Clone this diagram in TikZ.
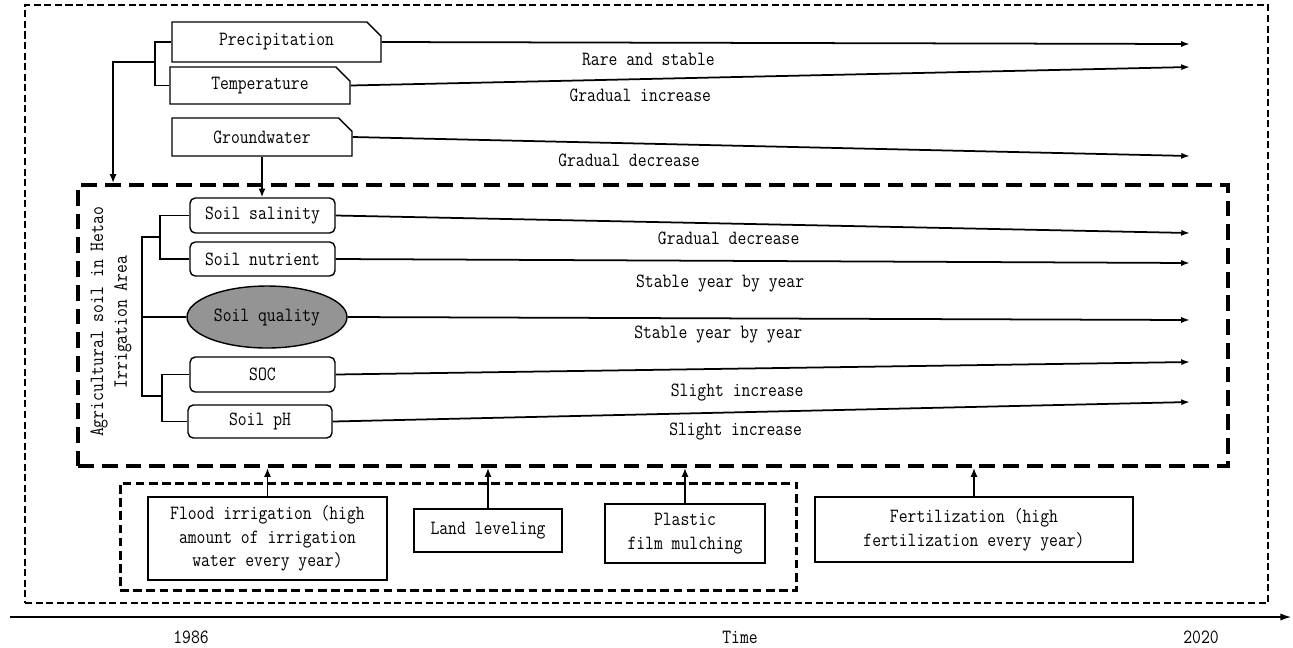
\documentclass[tikz,border=0pt]{standalone}
\usepackage{fontspec}
\setmainfont{Latin Modern Mono}[FakeStretch=0.85]
\usetikzlibrary{arrows.meta,positioning,shapes.misc,shapes.geometric}

\begin{document}
\begin{tikzpicture}[x=0.02cm, y=-0.02cm, font=\fontsize{11.5}{13.5}\selectfont,
  line width=0.8pt,
  factor/.style={draw, chamfered rectangle, chamfered rectangle corners=north east,
     chamfered rectangle sep=4pt, inner sep=0pt, minimum height=0.76cm},
  prop/.style={draw, rounded corners=3pt, inner sep=0pt, minimum width=2.9cm, minimum height=0.7cm},
  core/.style={draw, ellipse, fill=black!42, inner sep=0pt, minimum width=3.2cm, minimum height=1.24cm},
  practice/.style={draw, align=center, inner sep=0pt},
  flow/.style={-{Latex[length=5pt,width=4pt]}, line width=0.9pt},
  trend/.style={-{Latex[length=5pt,width=3.5pt]}, line width=1pt},
  trendlabel/.style={inner sep=0pt}]
  \useasboundingbox (0,0) rectangle (1293,647);

  % frames
  \node[draw, dash pattern=on 4pt off 2pt, minimum width=24.86cm, minimum height=11.96cm, inner sep=0pt] (frame) at (646.5,304) {};
  \node[draw, line width=2.3pt, dash pattern=on 9pt off 4.5pt, minimum width=23cm, minimum height=5.62cm, inner sep=0pt] (area) at (653,325.5) {};
  \node[draw, line width=1.7pt, dash pattern=on 5pt off 2.5pt, minimum width=13.54cm, minimum height=2.14cm, inner sep=0pt] (mgmt) at (458.5,536.5) {};

  % climate and groundwater
  \node[factor, minimum width=4.18cm, minimum height=0.8cm] (prec) at (276.5,42) {Precipitation};
  \node[factor, minimum width=3.6cm, minimum height=0.74cm] (temp) at (260,85.5) {Temperature};
  \node[factor, minimum width=3.6cm] (gw) at (262,137) {Groundwater};

  % soil properties
  \node[rotate=90, align=center] (label) at (111,322) {Agricultural soil in Hetao\\Irrigation Area};
  \node[prop] (sal) at (262.5,215.5) {Soil salinity};
  \node[prop, minimum height=0.68cm] (nut) at (262.5,259) {Soil nutrient};
  \node[core] (qual) at (267,317) {Soil quality};
  \node[prop] (soc) at (262.5,374.5) {SOC};
  \node[prop, minimum width=2.88cm, minimum height=0.66cm] (ph) at (260,421.5) {Soil pH};

  % management
  \node[practice, minimum width=4.78cm, minimum height=1.66cm] (flood) at (267.5,538.5) {Flood irrigation (high\\amount of irrigation\\water every year)};
  \node[practice, minimum width=2.96cm, minimum height=0.86cm] (level) at (488,530.5) {Land leveling};
  \node[practice, minimum width=3.2cm, minimum height=1.18cm] (film) at (685,533.5) {Plastic\\film mulching};
  \node[practice, minimum width=6.36cm, minimum height=1.3cm] (fert) at (974,529.5) {Fertilization (high\\fertilization every year)};

  % brackets
  \coordinate (clim) at (155,62);
  \draw (prec.west) -| (clim) |- (temp.west);
  \draw[flow] (clim) -| ([xshift=0.74cm]area.north west);
  \draw[flow] (gw.south) -- (gw.south |- sal.north);
  \coordinate (jtop) at (160,237);
  \coordinate (jbot) at (162,396);
  \coordinate (hub) at (142,317);
  \draw (sal.west) -| (jtop) |- (nut.west);
  \draw (soc.west) -| (jbot) |- (ph.west);
  \draw (jtop) -| (hub) |- (jbot);
  \draw (hub) -- (qual.west);

  % trends
  \foreach \n/\ey/\p/\d/\t in {prec/44/0.33/5.7/Rare and stable, temp/67/0.345/5.2/Gradual increase,
      gw/156/0.33/5.7/Gradual decrease, sal/233/0.46/4/Gradual decrease,
      nut/263/0.45/7.4/Stable year by year, qual/320/0.44/4/Stable year by year,
      soc/362/0.47/8/Slight increase, ph/402/0.47/5.7/Slight increase} {
    \coordinate (\n-end) at (1190,\ey);
    \draw[trend] (\n.east) -- (\n-end) node[trendlabel, pos=\p, below=\d pt] {\t};
  }

  % practices act on the soil
  \draw[flow] (flood.north) -- (flood.north |- area.south);
  \draw[flow] (level.north) -- (level.north |- area.south);
  \draw[flow] (film.north) -- (film.north |- area.south);
  \draw[flow] (fert.north) -- (fert.north |- area.south);

  % time axis
  \coordinate (t0) at (10,617);
  \coordinate (t1) at (1291,617);
  \draw[-{Latex[length=6pt,width=4pt]}, line width=0.6pt] (t0) -- (t1);
  \node (start) at (191,637) {1986};
  \node (time) at (740,637) {Time};
  \node (stop) at (1201,637) {2020};
\end{tikzpicture}
\end{document}
